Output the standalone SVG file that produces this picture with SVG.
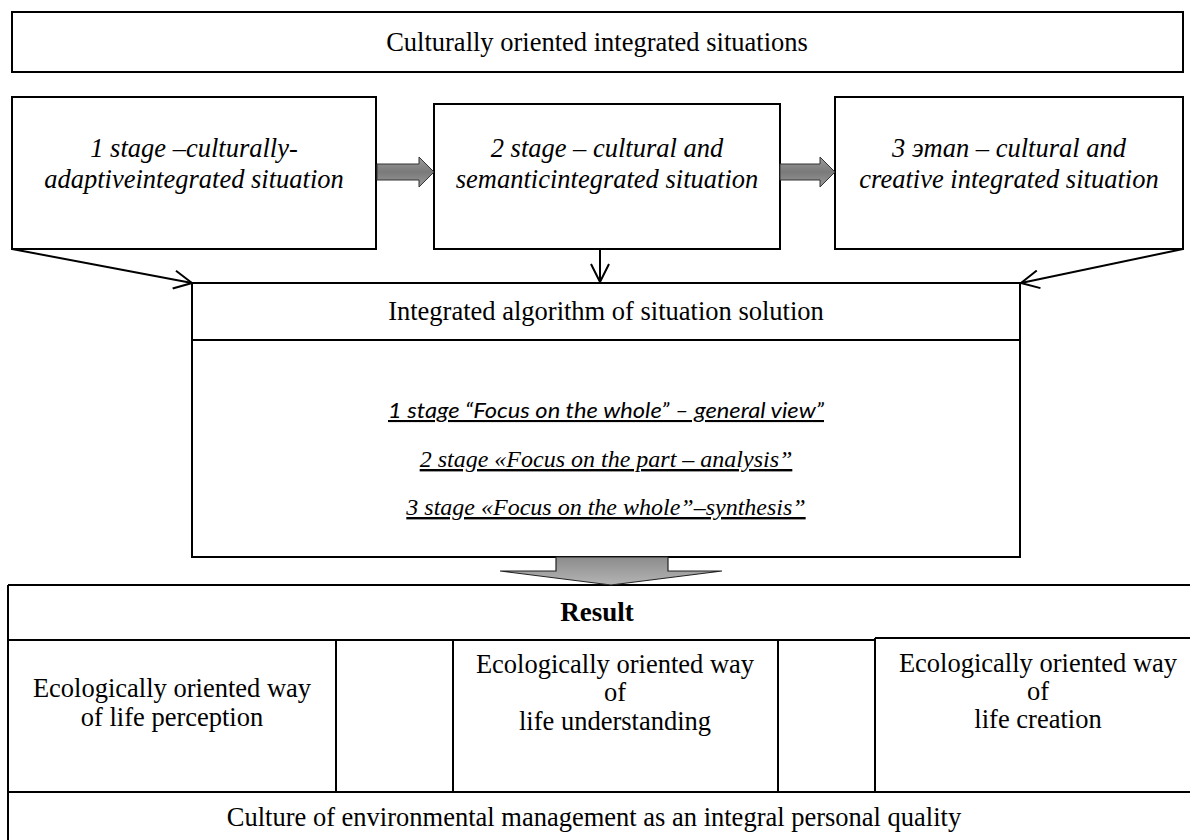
<svg xmlns="http://www.w3.org/2000/svg" width="1190" height="840" viewBox="0 0 1190 840">
<defs>
<linearGradient id="gs" x1="0" y1="0" x2="0" y2="1">
<stop offset="0" stop-color="#9a9a9a"/><stop offset="0.5" stop-color="#7a7a7a"/><stop offset="1" stop-color="#9a9a9a"/>
</linearGradient>
<linearGradient id="gb" x1="0" y1="0" x2="0" y2="1">
<stop offset="0" stop-color="#8c8c8c"/><stop offset="1" stop-color="#b4b4b4"/>
</linearGradient>
<marker id="open" viewBox="0 0 20 20" refX="19" refY="10" markerWidth="20" markerHeight="20" markerUnits="userSpaceOnUse" orient="auto">
<path d="M1,1 L19,10 L1,19" fill="none" stroke="#000" stroke-width="2"/>
</marker>
</defs>
<style>
.box{fill:#fff;stroke:#000;stroke-width:2}
.ln{stroke:#000;stroke-width:2;fill:none}
.t{font-family:'Liberation Serif',Tinos,'Times New Roman',Times,'DejaVu Serif',serif;font-size:26.5px;fill:#000;text-anchor:middle}
.it{font-style:italic}
.b{font-weight:bold;font-size:27px}
.sub{font-family:'Liberation Serif',Tinos,'Times New Roman',Times,'DejaVu Serif',serif;font-style:italic;font-size:24px;text-anchor:middle;text-decoration:underline;fill:#000}
.sans{font-family:Lato,'Liberation Sans',sans-serif;font-style:italic;font-size:21px;text-anchor:middle;text-decoration:underline;fill:#000}
.garrow{fill:url(#gs);stroke:#333;stroke-width:1}
.barrow{fill:url(#gb);stroke:#222;stroke-width:1.2}
</style>
<rect width="1190" height="840" fill="#fff"/>

<g id="top">
<rect class="box" x="12" y="12" width="1171" height="60"/>
<text class="t" x="597" y="51" font-family="Liberation Serif, DejaVu Serif, serif">Culturally oriented integrated situations</text>
</g>

<g id="stage1">
<rect class="box" x="12" y="97" width="364" height="152"/>
<text class="t it" x="194" y="157">1 stage –culturally-</text>
<text class="t it" x="194" y="188">adaptiveintegrated situation</text>
</g>

<g id="stage2">
<rect class="box" x="434" y="104" width="346" height="145"/>
<text class="t it" x="607" y="157">2 stage – cultural and</text>
<text class="t it" x="607" y="188">semanticintegrated situation</text>
</g>

<g id="stage3">
<rect class="box" x="835" y="97" width="348" height="152"/>
<text class="t it" x="1009" y="157">3 эman – cultural and</text>
<text class="t it" x="1009" y="188">creative integrated situation</text>
</g>

<g id="algorithm">
<rect class="box" x="192" y="283" width="828" height="274"/>
<line class="ln" x1="192" y1="340" x2="1020" y2="340"/>
<text class="t" x="606" y="320">Integrated algorithm of situation solution</text>
<text class="sans" x="606" y="418" textLength="436" lengthAdjust="spacingAndGlyphs">1 stage “Focus on the whole” – general view”</text>
<text class="sub" x="606" y="467">2 stage «Focus on the part – analysis”</text>
<text class="sub" x="606" y="515">3 stage «Focus on the whole”–synthesis”</text>
</g>

<g id="result">
<line class="ln" x1="8" y1="585" x2="1190" y2="585"/>
<line class="ln" x1="8" y1="585" x2="8" y2="840"/>
<text class="t b" x="597" y="621">Result</text>
<line class="ln" x1="8" y1="640" x2="875" y2="640"/>
<line class="ln" x1="875" y1="638" x2="1190" y2="638"/>
<line class="ln" x1="336" y1="640" x2="336" y2="792"/>
<line class="ln" x1="453" y1="640" x2="453" y2="792"/>
<line class="ln" x1="778" y1="640" x2="778" y2="792"/>
<line class="ln" x1="875" y1="638" x2="875" y2="792"/>
<line class="ln" x1="8" y1="792" x2="1190" y2="792"/>
</g>

<g id="cell-perception">
<text class="t" x="172" y="697">Ecologically oriented way</text>
<text class="t" x="172" y="726">of life perception</text>
</g>

<g id="cell-understanding">
<text class="t" x="615" y="673">Ecologically oriented way</text>
<text class="t" x="615" y="701">of</text>
<text class="t" x="615" y="730">life understanding</text>
</g>

<g id="cell-creation">
<text class="t" x="1038" y="672">Ecologically oriented way</text>
<text class="t" x="1038" y="700">of</text>
<text class="t" x="1038" y="728">life creation</text>
</g>

<g id="culture">
<text class="t" x="594" y="826">Culture of environmental management as an integral personal quality</text>
</g>

<g id="connectors">
<path class="garrow" d="M377,164 H419 V157 L434,172 L419,187 V180 H377 Z"/>
<path class="garrow" d="M780,164 H820 V157 L835,172 L820,187 V180 H780 Z"/>
<line class="ln" x1="12" y1="249" x2="192" y2="283" marker-end="url(#open)"/>
<line class="ln" x1="600" y1="249" x2="600" y2="282" marker-end="url(#open)"/>
<line class="ln" x1="1183" y1="249" x2="1021" y2="283" marker-end="url(#open)"/>
<path class="barrow" d="M556,557 H668 V571 H722 L611,585 L500,571 H556 Z"/>
</g>
</svg>
